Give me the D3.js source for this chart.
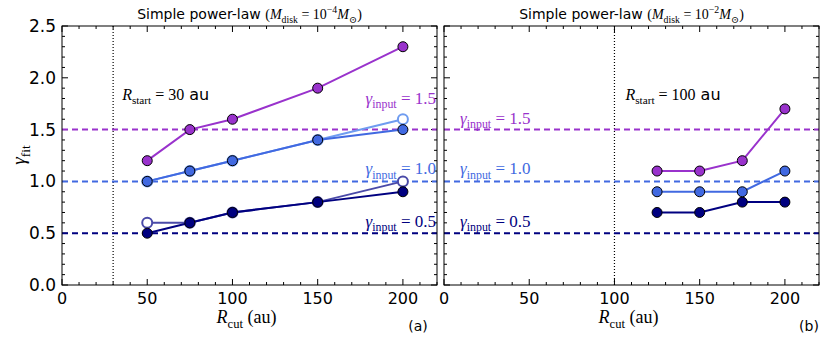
<!DOCTYPE html>
<html>
<head>
<meta charset="utf-8">
<script src="https://cdn.jsdelivr.net/npm/d3@7"></script>
<style>
  body { margin: 0; background: #fff; }
  text { font-family: "DejaVu Sans", sans-serif; }
</style>
</head>
<body>
<div id="chart"></div>
<script>
// chart data

const yTickVals = [0, 0.5, 1.0, 1.5, 2.0, 2.5];
const xTickVals = [0, 50, 100, 150, 200];
const inputGammas = [0.5, 1.0, 1.5];
const inputColors = ["#000080", "#4169e1", "#9932cc"];

// panel (a): R_start = 30 au
const rCutA = [50, 75, 100, 150, 200];
const fitA05 = [0.5, 0.6, 0.7, 0.8, 0.9];
const fitA05open = [0.6, 0.6, 0.7, 0.8, 1.0];
const fitA10 = [1.0, 1.1, 1.2, 1.4, 1.5];
const fitA10open = [1.0, 1.1, 1.2, 1.4, 1.6];
const fitA15 = [1.2, 1.5, 1.6, 1.9, 2.3];

// panel (b): R_start = 100 au
const rCutB = [125, 150, 175, 200];
const fitB05 = [0.7, 0.7, 0.8, 0.8];
const fitB10 = [0.9, 0.9, 0.9, 1.1];
const fitB15 = [1.1, 1.1, 1.2, 1.7];

const width = 830, height = 341;
const margin = { top: 26, bottom: 56 };

const svg = d3.select("#chart")
  .append("svg")
  .attr("width", width)
  .attr("height", height);

const yScale = d3.scaleLinear()
  .domain([0, 2.5])
  .range([height - margin.bottom, margin.top]);

const serif = "'Liberation Serif', 'DejaVu Serif', serif";

// writes a little bit of "math" text with tspans
function mathText(g, x, y, parts, opts) {
  const t = g.append("text")
    .attr("x", x).attr("y", y)
    .attr("text-anchor", opts.anchor || "start")
    .attr("font-size", opts.size)
    .attr("fill", opts.color || "#000");
  parts.forEach(p => {
    const s = t.append("tspan").text(p.t);
    if (p.font === "sans") s.style("font-family", "'DejaVu Sans', sans-serif");
    else s.style("font-family", serif);
    if (p.it) s.attr("font-style", "italic");
    if (p.sub) s.attr("font-size", opts.size * 0.7).attr("dy", opts.size * 0.25);
    if (p.sup) s.attr("font-size", opts.size * 0.7).attr("dy", -opts.size * 0.4);
    if (p.back) s.attr("dy", p.back * opts.size);
  });
  return t;
}

function drawPanel(cfg) {
  const xScale = d3.scaleLinear()
    .domain([0, 220])
    .range([cfg.x0, cfg.x1]);
  const g = svg.append("g");
  const yTop = yScale(2.5), yBot = yScale(0);

  // ticks, inside on all four sides (classic style)
  const xMinor = d3.range(0, 221, 10);
  const yMinor = d3.range(0, 2.51, 0.1);
  xMinor.forEach(v => {
    const major = v % 50 === 0;
    const len = major ? 6 : 3;
    g.append("line").attr("x1", xScale(v)).attr("x2", xScale(v))
      .attr("y1", yBot).attr("y2", yBot - len).attr("stroke", "#000");
    g.append("line").attr("x1", xScale(v)).attr("x2", xScale(v))
      .attr("y1", yTop).attr("y2", yTop + len).attr("stroke", "#000");
  });
  yMinor.forEach((v, i) => {
    const major = i % 5 === 0;
    const len = major ? 6 : 3;
    g.append("line").attr("y1", yScale(v)).attr("y2", yScale(v))
      .attr("x1", cfg.x0).attr("x2", cfg.x0 + len).attr("stroke", "#000");
    g.append("line").attr("y1", yScale(v)).attr("y2", yScale(v))
      .attr("x1", cfg.x1).attr("x2", cfg.x1 - len).attr("stroke", "#000");
  });

  // x tick labels
  g.selectAll(".xt").data(xTickVals).enter().append("text")
    .attr("x", d => xScale(d)).attr("y", yBot + 19)
    .attr("text-anchor", "middle").attr("font-size", 16)
    .text(d => d);

  if (cfg.yLabels) {
    g.selectAll(".yt").data(yTickVals).enter().append("text")
      .attr("x", cfg.x0 - 6).attr("y", d => yScale(d) + 6)
      .attr("text-anchor", "end").attr("font-size", 17)
      .text(d => d.toFixed(1));
  }

  // R_start dotted line
  g.append("line")
    .attr("x1", xScale(cfg.rStart)).attr("x2", xScale(cfg.rStart))
    .attr("y1", yTop).attr("y2", yBot)
    .attr("stroke", "#000").attr("stroke-width", 1.2)
    .attr("stroke-dasharray", "1,2");

  // input gamma dashed lines + labels
  inputGammas.forEach((v, i) => {
    g.append("line")
      .attr("x1", cfg.x0).attr("x2", cfg.x1)
      .attr("y1", yScale(v)).attr("y2", yScale(v))
      .attr("stroke", inputColors[i]).attr("stroke-width", 2)
      .attr("stroke-dasharray", "6,4");
    mathText(g, cfg.gx, yScale(v) - cfg.gdy[i], [
      { t: "γ", it: true },
      { t: "input", sub: true },
      { t: " = " + v.toFixed(1), back: -0.25 }
    ], { size: 17, color: inputColors[i], anchor: cfg.ganchor });
  });

  const line = d3.line()
    .x(d => xScale(d[0]))
    .y(d => yScale(d[1]));

  cfg.series.forEach(s => {
    const pts = d3.zip(s.x, s.y);
    g.append("path").datum(pts)
      .attr("d", line).attr("fill", "none")
      .attr("stroke", s.line).attr("stroke-width", 2);
    g.selectAll(null).data(pts).enter().append("circle")
      .attr("cx", d => xScale(d[0])).attr("cy", d => yScale(d[1]))
      .attr("r", 5)
      .attr("fill", s.open ? "#fff" : s.fill)
      .attr("stroke", s.open ? s.line : "#000")
      .attr("stroke-width", s.open ? 2 : 1);
  });

  // frame
  g.append("rect")
    .attr("x", cfg.x0).attr("y", yTop)
    .attr("width", cfg.x1 - cfg.x0).attr("height", yBot - yTop)
    .attr("fill", "none").attr("stroke", "#000").attr("stroke-width", 1);

  // title
  mathText(g, (cfg.x0 + cfg.x1) / 2, 19, [
    { t: "Simple power-law ", font: "sans" },
    { t: "(" },
    { t: "M", it: true },
    { t: "disk", sub: true },
    { t: " = 10", back: -0.25 },
    { t: cfg.pow, sup: true },
    { t: "M", it: true, back: 0.4 },
    { t: "⊙", sub: true },
    { t: ")", back: -0.25 }
  ], { size: 14, anchor: "middle" });

  // R_start label
  mathText(g, xScale(cfg.rStart) + cfg.rsDx, 100, [
    { t: "R", it: true },
    { t: "start", sub: true },
    { t: " = " + cfg.rStart, back: -0.25 },
    { t: " au", font: "sans" }
  ], { size: 16 });

  // x label
  mathText(g, (cfg.x0 + cfg.x1) / 2 - 3, 323, [
    { t: "R", it: true },
    { t: "cut", sub: true },
    { t: " (au)", back: -0.25 }
  ], { size: 18, anchor: "middle" });

  g.append("text")
    .attr("x", cfg.x1 - cfg.tagDx).attr("y", 331)
    .attr("text-anchor", "middle").attr("font-size", 14)
    .text(cfg.tag);
}

drawPanel({
  x0: 62, x1: 437, yLabels: true, rStart: 30, rsDx: 9,
  gx: 436, ganchor: "end", gdy: [6, 7, 26], pow: "−4", tag: "(a)", tagDx: 19,
  series: [
    { x: rCutA, y: fitA05open, line: "#4a4aa8", open: true },
    { x: rCutA, y: fitA05, line: "#000080", fill: "#000080" },
    { x: rCutA, y: fitA10open, line: "#6f9cf0", open: true },
    { x: rCutA, y: fitA10, line: "#4169e1", fill: "#4169e1" },
    { x: rCutA, y: fitA15, line: "#9932cc", fill: "#9932cc" }
  ]
});

drawPanel({
  x0: 444, x1: 819, yLabels: false, rStart: 100, rsDx: 11,
  gx: 460, ganchor: "start", gdy: [6, 7, 6], pow: "−2", tag: "(b)", tagDx: 10,
  series: [
    { x: rCutB, y: fitB05, line: "#000080", fill: "#000080" },
    { x: rCutB, y: fitB10, line: "#4169e1", fill: "#4169e1" },
    { x: rCutB, y: fitB15, line: "#9932cc", fill: "#9932cc" }
  ]
});

// y label
const yl = svg.append("g").attr("transform", "translate(25,155) rotate(-90)");
mathText(yl, 0, 0, [
  { t: "γ", it: true },
  { t: "fit", sub: true }
], { size: 19, anchor: "middle" });
</script>
</body>
</html>
